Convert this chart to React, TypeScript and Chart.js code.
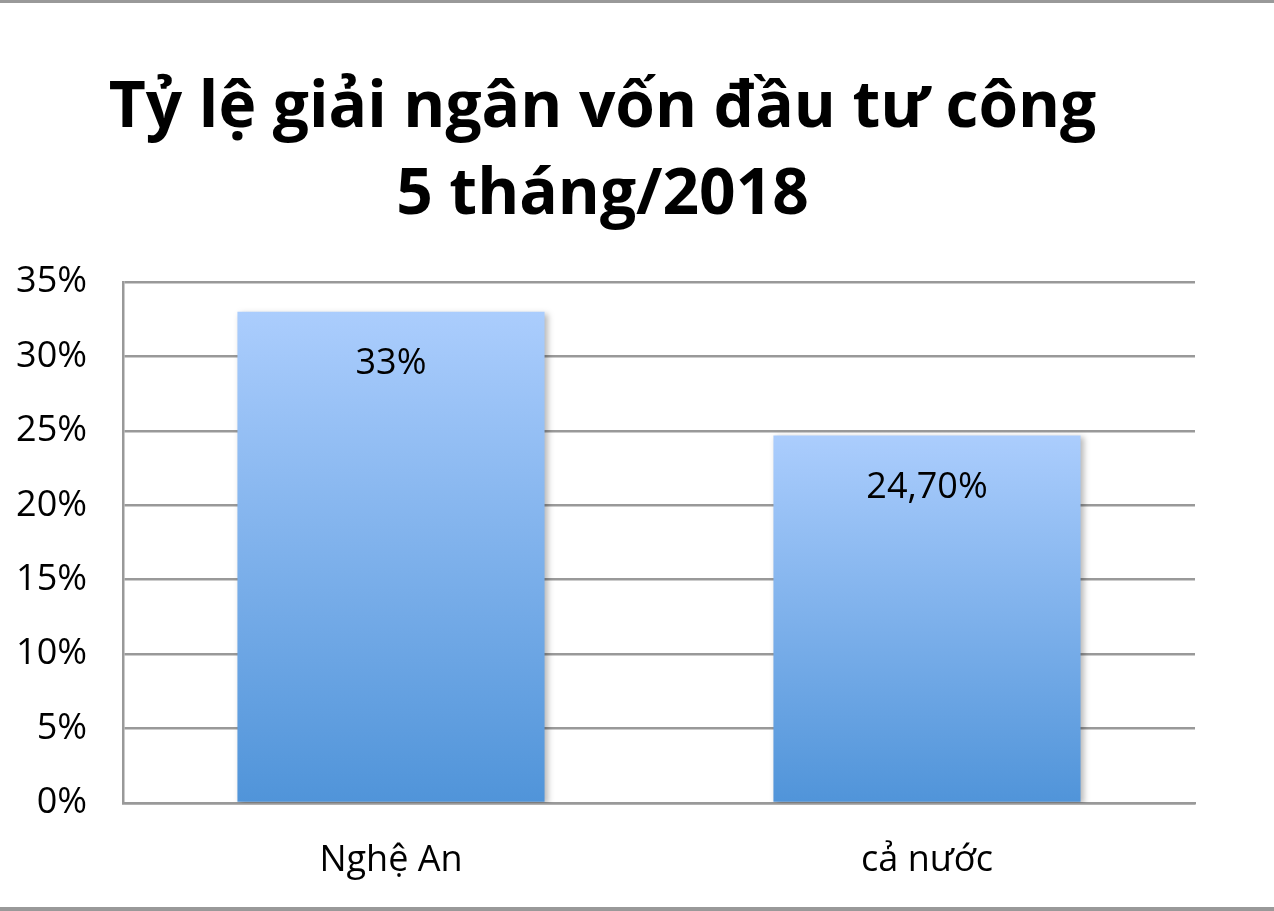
import React, { useEffect, useRef } from "react";
import { Chart, registerables, type ChartConfiguration, type Plugin } from "chart.js";

Chart.register(...registerables);

const categories = ["Nghệ An", "cả nước"];
const rates = [33, 24.7];
const rateLabels = ["33%", "24,70%"];
const titleLines = ["Tỷ lệ giải ngân vốn đầu tư công", "5 tháng/2018"];

const FONT = "'Open Sans', sans-serif";

// soft drop shadow behind the bars, like the spreadsheet style
const barShadow: Plugin<"bar"> = {
  id: "barShadow",
  beforeDatasetsDraw(chart) {
    const ctx = chart.ctx;
    ctx.save();
    ctx.shadowColor = "rgba(0,0,0,0.28)";
    ctx.shadowBlur = 6;
    ctx.shadowOffsetX = 3;
    ctx.shadowOffsetY = 2;
  },
  afterDatasetsDraw(chart) {
    chart.ctx.restore();
  },
};

// value labels inside the top of each bar
const valueLabels: Plugin<"bar"> = {
  id: "valueLabels",
  afterDatasetsDraw(chart) {
    const ctx = chart.ctx;
    const meta = chart.getDatasetMeta(0);
    ctx.save();
    ctx.font = `36px ${FONT}`;
    ctx.fillStyle = "#000";
    ctx.textAlign = "center";
    ctx.textBaseline = "middle";
    meta.data.forEach((bar, i) => {
      ctx.fillText(rateLabels[i], bar.x, bar.y + 52);
    });
    ctx.restore();
  },
};

export default function App() {
  const canvasRef = useRef<HTMLCanvasElement | null>(null);
  const chartRef = useRef<Chart<"bar"> | null>(null);

  useEffect(() => {
    if (!canvasRef.current) return;

    const config: ChartConfiguration<"bar"> = {
      type: "bar",
      data: {
        labels: categories,
        datasets: [
          {
            data: rates,
            borderWidth: 0,
            barPercentage: 0.573,
            categoryPercentage: 1,
            backgroundColor: (c) => {
              const chart = c.chart;
              const area = chart.chartArea;
              if (!area || c.dataIndex === undefined) return "#7fb0ec";
              const y = chart.scales.y;
              const top = y.getPixelForValue(rates[c.dataIndex]);
              const base = y.getPixelForValue(0);
              const g = chart.ctx.createLinearGradient(0, top, 0, base);
              g.addColorStop(0, "#abcdfd");
              g.addColorStop(1, "#5094d9");
              return g;
            },
          },
        ],
      },
      options: {
        responsive: true,
        maintainAspectRatio: false,
        animation: false,
        layout: { padding: { left: 10, right: 79, top: 0, bottom: 0 } },
        plugins: {
          legend: { display: false },
          tooltip: { enabled: false },
          title: {
            display: true,
            text: titleLines,
            color: "#000",
            font: { family: FONT, size: 64, weight: "bold", lineHeight: 1.36 },
            padding: { top: 62, bottom: 43 },
          },
        },
        scales: {
          x: {
            grid: { display: false, drawTicks: false },
            border: { color: "#999", width: 2.5 },
            ticks: {
              color: "#000",
              padding: 36,
              font: { family: FONT, size: 36 },
            },
            afterFit: (scale) => {
              scale.height = 104;
            },
          },
          y: {
            min: 0,
            max: 35,
            grid: { color: "#999", lineWidth: 2.5, drawTicks: false },
            border: { color: "#999", width: 2.5 },
            ticks: {
              stepSize: 5,
              color: "#000",
              padding: 36,
              font: { family: FONT, size: 36 },
              callback: (v) => `${v}%`,
            },
            afterFit: (scale) => {
              scale.width = 113;
            },
          },
        },
      },
      plugins: [barShadow, valueLabels],
    };

    chartRef.current = new Chart(canvasRef.current, config);

    return () => {
      chartRef.current?.destroy();
      chartRef.current = null;
    };
  }, []);

  return (
    <div
      style={{
        position: "fixed",
        left: 0,
        top: 0,
        width: 1274,
        height: 911,
        boxSizing: "border-box",
        background: "#fff",
        borderTop: "3px solid #999",
        borderBottom: "4px solid #999",
      }}
    >
      <div style={{ position: "relative", width: "100%", height: "100%" }}>
        <canvas ref={canvasRef} aria-label="Tỷ lệ giải ngân vốn đầu tư công 5 tháng/2018" />
      </div>
    </div>
  );
}
